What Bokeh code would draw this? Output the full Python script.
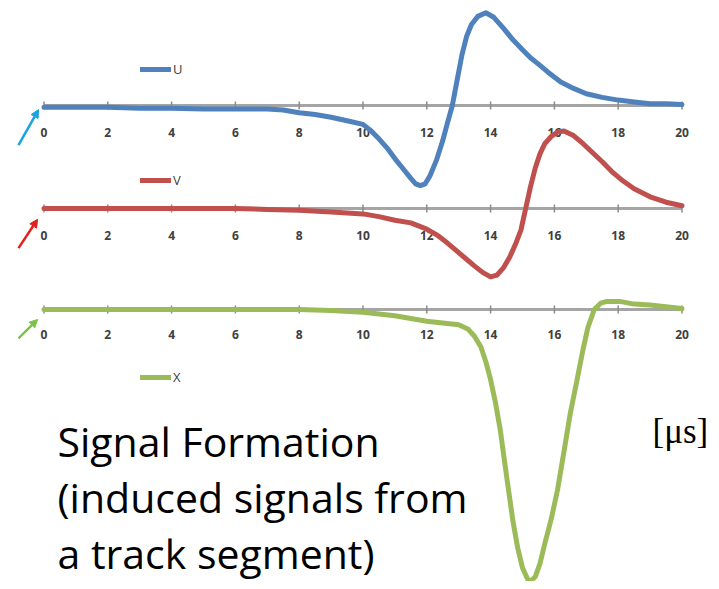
import math
from bokeh.plotting import figure
from bokeh.models import (Range1d, Legend, LegendItem, Label, Arrow, NormalHead)
from bokeh.core.properties import value
from bokeh.embed import file_html
from bokeh.resources import INLINE

# ---------------- data ----------------
ticks = [0, 2, 4, 6, 8, 10, 12, 14, 16, 18, 20]
tick_labels = [str(t) for t in ticks]

u_t = [0, 1, 2, 3, 4, 5, 6, 7, 7.5, 8, 8.5, 9.0, 9.5, 10.0, 10.25, 10.5, 10.75, 11.0,
       11.25, 11.5, 11.65, 11.8, 11.95, 12.1, 12.3, 12.5, 12.65, 12.8, 12.95, 13.1,
       13.25, 13.4, 13.6, 13.85, 14.1, 14.4, 14.7, 15.0, 15.25, 15.5, 15.8, 16.2,
       16.6, 17.0, 17.5, 18.0, 18.5, 19.0, 19.5, 20]
u_val = [-0.02, -0.02, -0.02, -0.03, -0.03, -0.04, -0.04, -0.04, -0.05, -0.08, -0.10,
         -0.13, -0.17, -0.21, -0.28, -0.37, -0.47, -0.59, -0.70, -0.81, -0.87, -0.89,
         -0.87, -0.78, -0.61, -0.39, -0.19, 0.0, 0.28, 0.56, 0.77, 0.90, 0.99, 1.03,
         0.98, 0.86, 0.73, 0.62, 0.53, 0.46, 0.37, 0.26, 0.19, 0.13, 0.09, 0.06, 0.04,
         0.02, 0.02, 0.01]

v_t = [0, 2, 4, 6, 7, 8, 9, 10, 10.5, 11.0, 11.5, 12.0, 12.3, 12.6, 12.9, 13.2, 13.5,
       13.75, 14.0, 14.2, 14.4, 14.6, 14.8, 14.95, 15.1, 15.25, 15.4, 15.55, 15.7,
       15.9, 16.1, 16.3, 16.6, 16.9, 17.2, 17.5, 17.8, 18.1, 18.5, 19.0, 19.5, 20]
v_val = [0.0, 0.0, 0.0, 0.0, -0.01, -0.02, -0.04, -0.06, -0.09, -0.13, -0.16, -0.23,
         -0.29, -0.37, -0.46, -0.55, -0.64, -0.71, -0.76, -0.74, -0.66, -0.54, -0.38,
         -0.24, 0.0, 0.24, 0.45, 0.61, 0.72, 0.80, 0.85, 0.86, 0.81, 0.72, 0.62, 0.52,
         0.41, 0.32, 0.22, 0.13, 0.07, 0.03]

x_t = [0, 4, 8, 9, 10, 11, 12, 12.5, 13.0, 13.3, 13.5, 13.7, 13.85, 14.0, 14.15, 14.3,
       14.5, 14.7, 14.85, 15.0, 15.15, 15.25, 15.4, 15.55, 15.7, 15.9, 16.1, 16.3, 16.5,
       16.7, 16.9, 17.05, 17.25, 17.45, 17.65, 18.05, 18.5, 19.0, 19.5, 20]
x_val = [0.0, 0.0, 0.0, -0.01, -0.03, -0.07, -0.13, -0.15, -0.17, -0.22, -0.30, -0.42,
         -0.58, -0.78, -1.03, -1.33, -1.85, -2.35, -2.65, -2.87, -2.99, -3.02, -2.97,
         -2.82, -2.60, -2.33, -2.00, -1.58, -1.15, -0.80, -0.44, -0.20, 0.0, 0.07, 0.09,
         0.09, 0.06, 0.05, 0.03, 0.01]

series_names = ["U", "V", "X"]

# ---------------- layout constants ----------------
W, H = 711, 581
PX_PER_US = 31.9
T0_PX = 43.5
PX_PER_UNIT = 90.0
zero_px = {"U": 105, "V": 208, "X": 309}     # panel baselines, px from frame top
label_off = {"U": 27, "V": 27, "X": 25}
colors = {"U": "#4F81BD", "V": "#C0504D", "X": "#9BBB59"}
arrow_colors = {"U": "#1AA3E0", "V": "#E3201B", "X": "#7DC24A"}

def yr(name):
    z = zero_px[name]
    return Range1d((z - H) / PX_PER_UNIT, z / PX_PER_UNIT)

p = figure(width=W, height=H, output_backend="svg", toolbar_location=None,
           x_range=Range1d(-T0_PX / PX_PER_US, (W - T0_PX) / PX_PER_US),
           y_range=yr("U"), x_axis_location=None, y_axis_location=None,
           min_border=0, outline_line_color=None)
p.grid.visible = False
p.extra_y_ranges = {"V": yr("V"), "X": yr("X")}

def rn(name):
    return "default" if name == "U" else name

# axes (baseline, tick marks, tick labels)
for name in series_names:
    p.line(x=[ticks[0], ticks[-1]], y=[0, 0], line_color="#A5A5A5", line_width=3,
           y_range_name=rn(name))
    p.scatter(x=ticks, y=[0] * len(ticks), marker="dash", angle=math.pi / 2, size=8,
              line_color="#8C8C8C", line_width=1.5, y_range_name=rn(name))
    p.text(x=ticks, y=[0] * len(ticks), text=tick_labels, y_range_name=rn(name),
           y_offset=label_off[name], text_align="center", text_baseline="middle",
           text_font=value("Open Sans"), text_font_size="12px", text_color="#404040",
           text_font_style="bold")

# curves
data = {"U": (u_t, u_val), "V": (v_t, v_val), "X": (x_t, x_val)}
rends = {}
for name in ["X", "V", "U"]:
    t, v = data[name]
    rends[name] = p.line(x=t, y=v, line_color=colors[name], line_width=5,
                         line_join="round", line_cap="round", y_range_name=rn(name))

# legends
legend_pos = {"U": (140, H - 78), "V": (140, H - 189), "X": (140, H - 386)}
for name in series_names:
    lg = Legend(items=[LegendItem(label=name, renderers=[rends[name]])],
                location=legend_pos[name], padding=0, margin=0, spacing=0,
                glyph_width=31, glyph_height=10, label_height=10, label_standoff=2,
                label_text_font="Open Sans", label_text_font_size="13px",
                label_text_color="#404040", border_line_color=None,
                background_fill_alpha=0)
    p.add_layout(lg)

# arrows pointing at each panel's origin
arrow_coords = {"U": (-0.80, -0.44, -0.17, -0.045),
                "V": (-0.80, -0.44, -0.20, -0.12),
                "X": (-0.80, -0.32, -0.20, -0.11)}
for name in series_names:
    xs, ys, xe, ye = arrow_coords[name]
    c = arrow_colors[name]
    p.add_layout(Arrow(end=NormalHead(size=8, fill_color=c, line_color=c, line_width=1),
                       x_start=xs, y_start=ys, x_end=xe, y_end=ye, line_color=c,
                       line_width=2.5, y_range_name=rn(name)))

# texts (baseline positions measured from the reference, corrected for
# the renderer's alphabetic-baseline shift)
SANS_SHIFT = 15
SERIF_SHIFT = 9
for txt, base in [("Signal Formation", 455), ("(induced signals from", 511),
                  ("a track segment)", 567)]:
    p.add_layout(Label(x=57, y=H - base + SANS_SHIFT, x_units="screen", y_units="screen",
                       text=txt, text_font="Open Sans", text_font_size="41px",
                       text_color="#000000", text_baseline="alphabetic"))
p.add_layout(Label(x=652, y=H - 440 + SERIF_SHIFT, x_units="screen", y_units="screen",
                   text="[μs]", text_font="Liberation Serif", text_font_size="35px",
                   text_color="#000000", text_baseline="alphabetic"))

open("out.html", "w").write(file_html(p, INLINE))
